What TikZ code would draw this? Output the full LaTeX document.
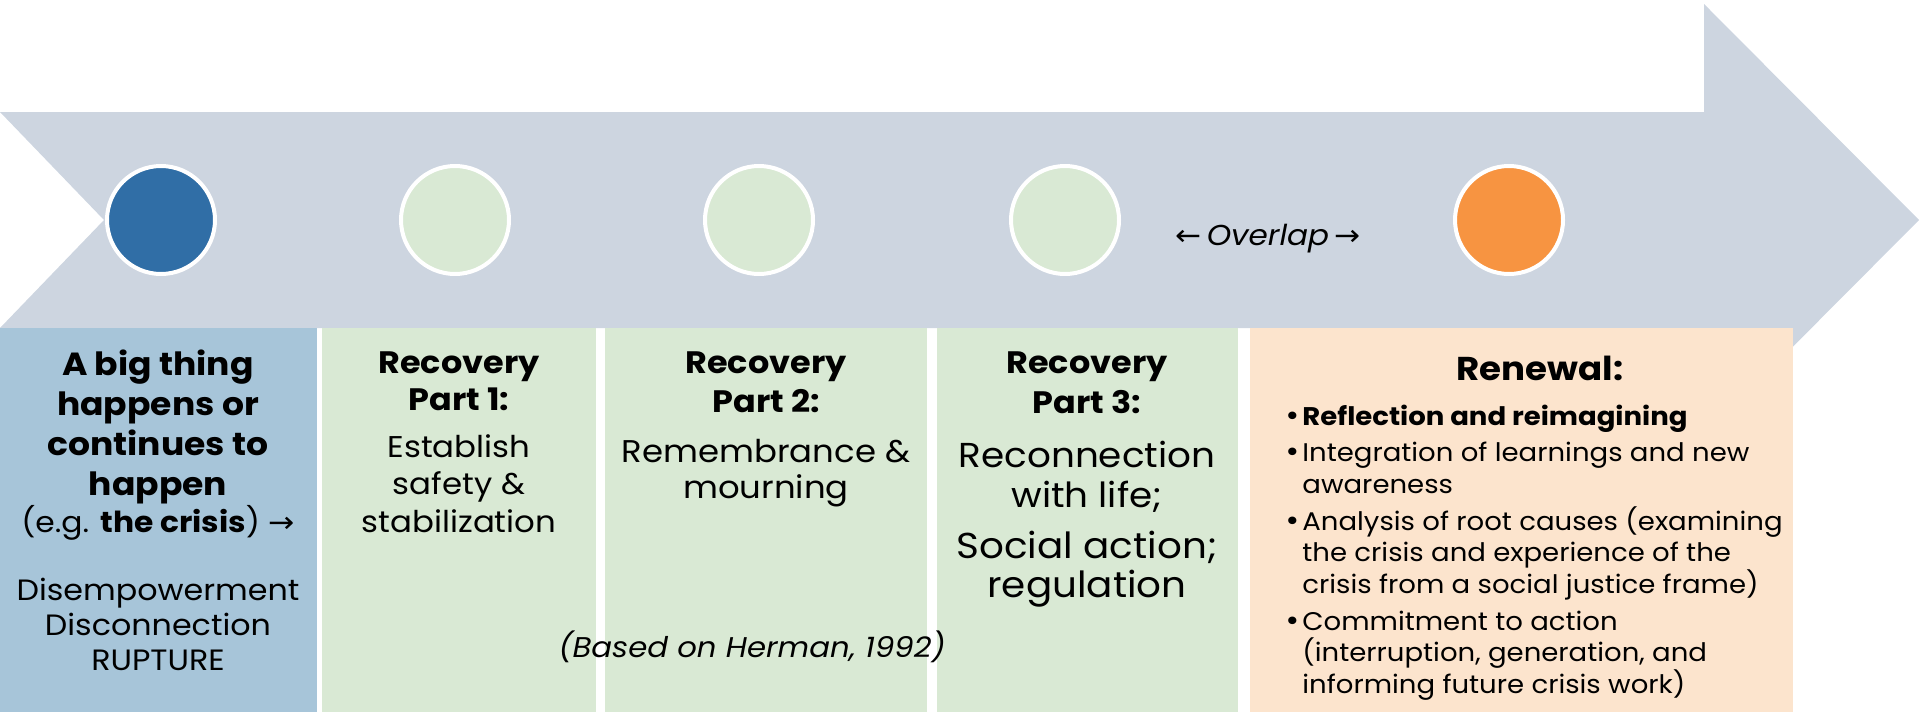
\documentclass[tikz,border=0pt]{standalone}
\usepackage{fontspec}
\setmainfont[FakeStretch=1.08]{Poppins}
\newfontfamily\arrowfont[FakeStretch=1.08]{DejaVu Sans}
\definecolor{shaft}{HTML}{CDD5E0}
\definecolor{crisisbox}{HTML}{A7C5D9}
\definecolor{recbox}{HTML}{D9E9D4}
\definecolor{renbox}{HTML}{FCE4CD}
\definecolor{crisisdot}{HTML}{306EA6}
\definecolor{renewdot}{HTML}{F79441}
\newcommand{\fs}[2]{\fontsize{#1}{#2}\selectfont}
\newcommand{\itm}{\makebox[7.5pt][l]{\hspace*{-1.6pt}\rlap{\arrowfont\fs{13}{0}\char"2022}}}
\newcommand{\cont}{\hspace*{7.5pt}}
\begin{document}
\begin{tikzpicture}[x=0.5pt,y=-0.5pt,
  dot/.style={circle,draw=white,line width=2pt,minimum size=54pt,inner sep=0pt},
  txt/.style={inner sep=0pt,anchor=base,align=center},
  ltxt/.style={inner sep=0pt,anchor=base west,align=left}]
\useasboundingbox (0,0) rectangle (1920,712);
% notched timeline arrow
\fill[shaft] (0,112) -- (1704,112) -- (1704,4) -- (1919,220) -- (1704,436)
  -- (1704,328) -- (0,328) -- (104,220) -- cycle;
% stage panels
\fill[crisisbox] (0,328) rectangle (317,712);
\fill[recbox] (322,328) rectangle (596,712);
\fill[recbox] (605,328) rectangle (927,712);
\fill[recbox] (937,328) rectangle (1238,712);
\fill[renbox] (1250,328) rectangle (1793,712);
% stage markers
\node[dot,fill=crisisdot] (d1) at (161,220) {};
\node[dot,fill=recbox] (d2) at (455,220) {};
\node[dot,fill=recbox] (d3) at (759,220) {};
\node[dot,fill=recbox] (d4) at (1065,220) {};
\node[dot,fill=renewdot] (d5) at (1509,220) {};
\node[txt] (ov) at (1268,245) {\fs{14.4}{17}{\arrowfont\char"2190}\,\textit{Overlap}\,{\arrowfont\char"2192}};
% crisis panel (anchors sit on the last baseline of each block)
\node[txt,font=\fs{16}{20}\bfseries] (c1) at (158,495) {A big thing\\happens or\\continues to\\happen};
\node[txt,font=\fs{14.5}{17}] (c2) at (158,532) {(e.g. \textbf{the crisis}) {\arrowfont\char"2192}};
\node[txt,font=\fs{14.7}{17.5}] (c3) at (158,670) {Disempowerment\\Disconnection\\RUPTURE};
% recovery part 1
\node[txt,font=\fs{15.5}{18.5}\bfseries] (r1) at (459,410) {Recovery\\Part 1:};
\node[txt,font=\fs{15}{18.75}] (r1b) at (459,532) {Establish\\safety \&\\stabilization};
% recovery part 2
\node[txt,font=\fs{15.5}{19.5}\bfseries] (r2) at (766,412) {Recovery\\Part 2:};
\node[txt,font=\fs{15.7}{18}] (r2b) at (766,498) {Remembrance \&\\mourning};
% recovery part 3
\node[txt,font=\fs{15.5}{20}\bfseries] (r3) at (1087,413) {Recovery\\Part 3:};
\node[txt,font=\fs{17.3}{20}] (r3b) at (1087,507) {Reconnection\\with life;};
\node[txt,font=\fs{18}{19.5}] (r3c) at (1087,597) {Social action;\\regulation};
% renewal
\node[txt,font=\fs{16.5}{20}\bfseries] (n1) at (1540,380) {Renewal:};
\node[ltxt,font=\fs{12.75}{15.75}] (n2) at (1287,693) {%
\itm\textbf{Reflection and reimagining}\\[2.65pt]
\itm Integration of learnings and new\\
\cont awareness\\[2.65pt]
\itm Analysis of root causes (examining\\
\cont the crisis and experience of the\\
\cont crisis from a social justice frame)\\[2.65pt]
\itm Commitment to action\\
\cont (interruption, generation, and\\
\cont informing future crisis work)};
\node[txt,font=\fs{14.25}{17}\itshape] (src) at (752,657) {(Based on Herman, 1992)};
\end{tikzpicture}
\end{document}
